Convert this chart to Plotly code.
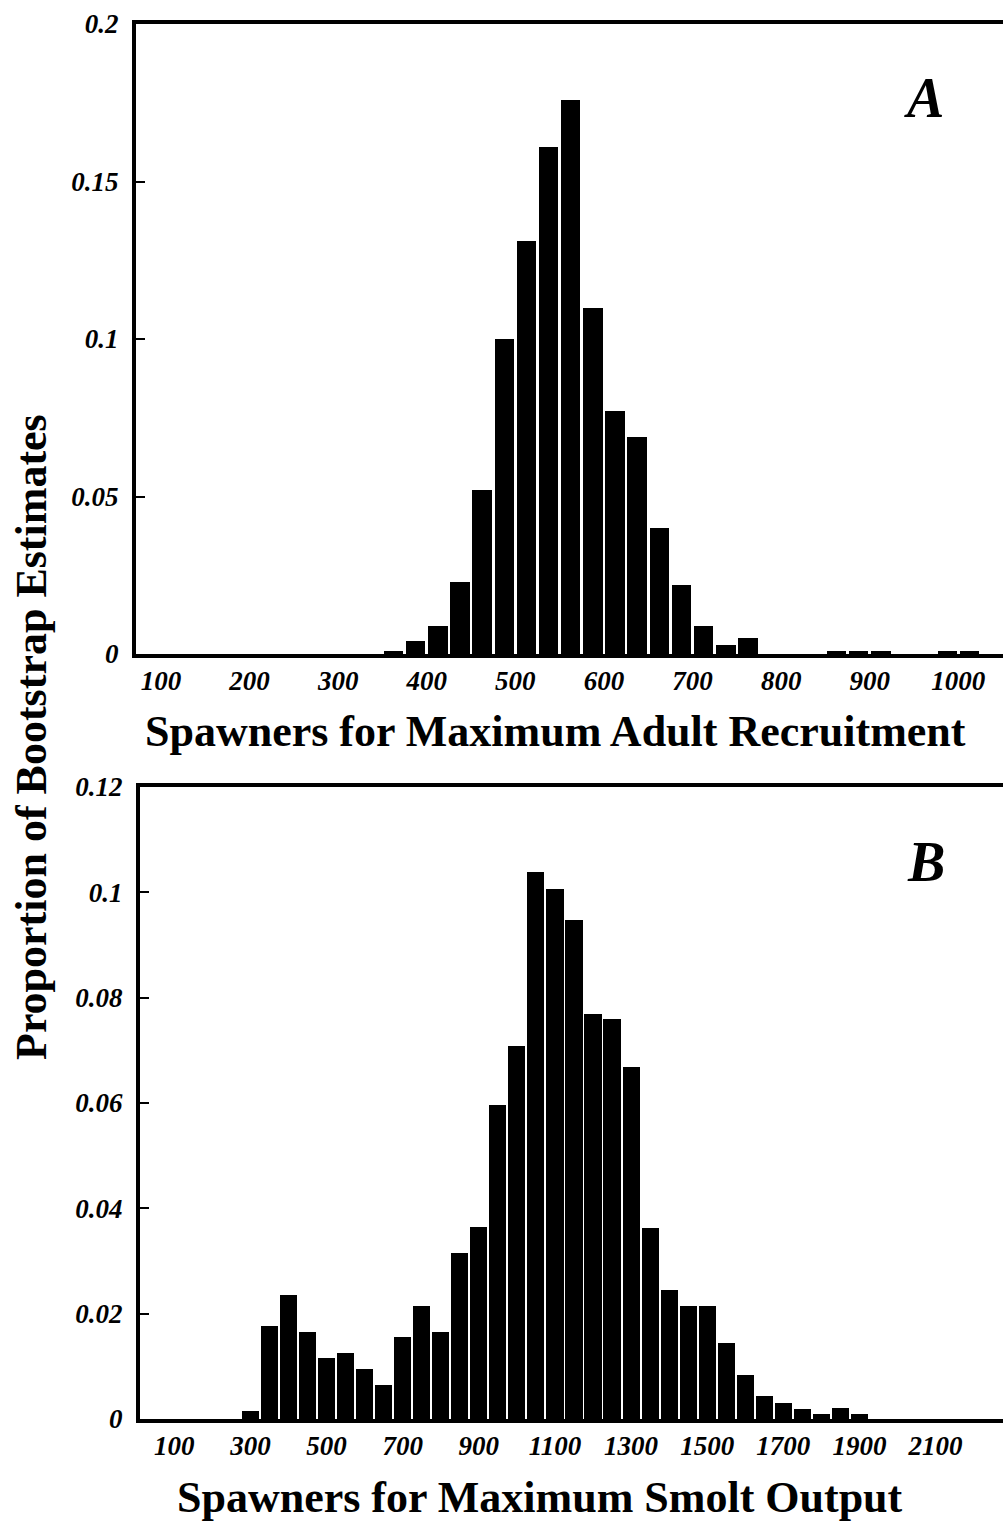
import plotly.graph_objects as go

# ---- Panel A data: bins of width 25 (bin centres) ----
a_centers = [362.5, 387.5, 412.5, 437.5, 462.5, 487.5, 512.5, 537.5, 562.5,
             587.5, 612.5, 637.5, 662.5, 687.5, 712.5, 737.5, 762.5,
             862.5, 887.5, 912.5, 987.5, 1012.5]
a_props = [0.001, 0.004, 0.009, 0.023, 0.052, 0.100, 0.131, 0.161, 0.176,
           0.110, 0.077, 0.069, 0.040, 0.022, 0.009, 0.003, 0.005,
           0.001, 0.001, 0.001, 0.001, 0.001]

# ---- Panel B data: bins of width 50 (bin centres) ----
b_centers = [300, 350, 400, 450, 500, 550, 600, 650, 700, 750, 800, 850, 900,
             950, 1000, 1050, 1100, 1150, 1200, 1250, 1300, 1350, 1400, 1450,
             1500, 1550, 1600, 1650, 1700, 1750, 1800, 1850, 1900]
b_props = [0.0015, 0.0176, 0.0235, 0.0166, 0.0116, 0.0125, 0.0094, 0.0064,
           0.0155, 0.0214, 0.0165, 0.0315, 0.0364, 0.0597, 0.0708, 0.1038,
           0.1007, 0.0948, 0.0769, 0.0760, 0.0668, 0.0363, 0.0244, 0.0214,
           0.0214, 0.0144, 0.0083, 0.0044, 0.0030, 0.0019, 0.0010, 0.0020,
           0.0010]

# ---- tick labels ----
a_xticks = [100, 200, 300, 400, 500, 600, 700, 800, 900, 1000]
a_yticks = [0, 0.05, 0.1, 0.15, 0.2]
a_ytext = ["0", "0.05", "0.1", "0.15", "0.2"]
b_xticks = [100, 300, 500, 700, 900, 1100, 1300, 1500, 1700, 1900, 2100]
b_yticks = [0, 0.02, 0.04, 0.06, 0.08, 0.1, 0.12]
b_ytext = ["0", "0.02", "0.04", "0.06", "0.08", "0.1", "0.12"]

W, H = 1003, 1523
SERIF = "Liberation Serif, Times New Roman, serif"
tickfont = dict(family=SERIF, size=27, color="black", weight="bold", style="italic")

fig = go.Figure()
fig.add_trace(go.Bar(x=a_centers, y=a_props, width=22, marker=dict(color="black", line=dict(width=0)),
                     xaxis="x", yaxis="y", showlegend=False))
fig.add_trace(go.Bar(x=b_centers, y=b_props, width=45, marker=dict(color="black", line=dict(width=0)),
                     xaxis="x2", yaxis="y2", showlegend=False))

def px_x(p):
    return p / W

def px_y(p):
    return 1 - p / H

common_x = dict(showgrid=False, zeroline=False, showline=True, linecolor="black", linewidth=4,
                mirror=True, ticks="", tickfont=tickfont, ticklabelstandoff=0, automargin=False)
common_y = dict(showgrid=False, zeroline=False, showline=True, linecolor="black", linewidth=4,
                ticks="inside", ticklen=9, tickwidth=2, tickcolor="black",
                tickfont=tickfont, ticklabelstandoff=8, automargin=False)

fig.update_layout(
    width=W, height=H,
    margin=dict(l=0, r=0, t=0, b=0, autoexpand=False),
    paper_bgcolor="white", plot_bgcolor="white",
    bargap=0,
    xaxis=dict(common_x, domain=[px_x(136), 1.0], range=[71.8, 1050.4],
               tickvals=a_xticks, anchor="y"),
    yaxis=dict(common_y, domain=[px_y(654), px_y(24)], range=[0, 0.2],
               tickvals=a_yticks, ticktext=a_ytext, anchor="x"),
    xaxis2=dict(common_x, domain=[px_x(140), 1.0], range=[10, 2277],
                tickvals=b_xticks, anchor="y2"),
    yaxis2=dict(common_y, domain=[px_y(1419), px_y(787)], range=[0, 0.12],
                tickvals=b_yticks, ticktext=b_ytext, anchor="x2"),
)

titlefont = dict(family=SERIF, size=44, color="black", weight="bold")
fig.add_annotation(text="Spawners for Maximum Adult Recruitment", x=px_x(555), y=px_y(731),
                   xref="paper", yref="paper", showarrow=False, font=titlefont,
                   xanchor="center", yanchor="middle")
fig.add_annotation(text="Spawners for Maximum Smolt Output", x=px_x(540), y=px_y(1497),
                   xref="paper", yref="paper", showarrow=False, font=titlefont,
                   xanchor="center", yanchor="middle")
fig.add_annotation(text="Proportion of Bootstrap Estimates", x=px_x(32), y=px_y(737),
                   xref="paper", yref="paper", showarrow=False, textangle=-90,
                   font=dict(family=SERIF, size=44, color="black", weight="bold"),
                   xanchor="center", yanchor="middle")
panelfont = dict(family=SERIF, size=56, color="black", weight="bold", style="italic")
fig.add_annotation(text="A", x=px_x(924), y=px_y(98), xref="paper", yref="paper",
                   showarrow=False, font=panelfont, xanchor="center", yanchor="middle")
fig.add_annotation(text="B", x=px_x(926), y=px_y(862), xref="paper", yref="paper",
                   showarrow=False, font=panelfont, xanchor="center", yanchor="middle")

fig.write_html("out.html")
